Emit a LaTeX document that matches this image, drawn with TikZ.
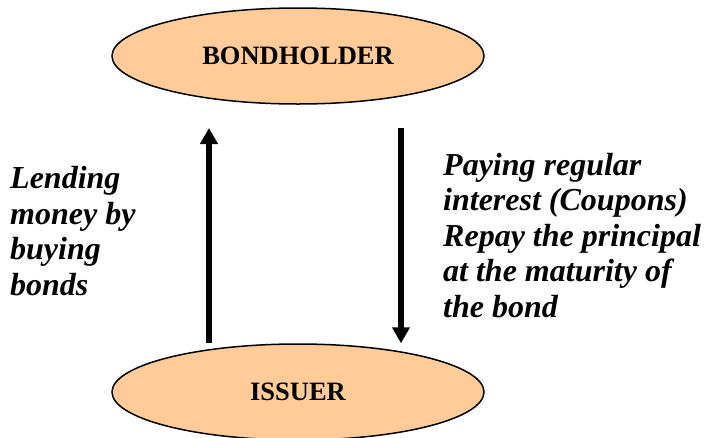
\documentclass[tikz,border=0pt]{standalone}
\usepackage{fontspec}
\setmainfont{Liberation Serif}
\usetikzlibrary{shapes.geometric,arrows.meta}
\definecolor{peach}{HTML}{FFCC99}
\begin{document}
\begin{tikzpicture}[x=1pt,y=-1pt]
  \tikzstyle{party} = [ellipse, draw=black, line width=1.5pt, fill=peach, minimum width=372pt, minimum height=96pt, font=\fontsize{26.5}{30}\selectfont\bfseries]
  \tikzstyle{flow} = [line width=6pt, -{Triangle[length=16pt,width=17pt]}]
  \tikzstyle{note} = [anchor=base west, inner sep=0pt, align=left, font=\fontsize{32}{35.5}\selectfont\bfseries\itshape]
  \useasboundingbox (0,0) rectangle (704,437);

  \node[party] (holder) at (298,56) {BONDHOLDER};
  \node[party] (issuer) at (298,392) {ISSUER};

  \coordinate (lendtop) at (209,128);
  \coordinate (paytop) at (401,128);

  \draw[flow] (issuer.north -| lendtop) -- (lendtop);
  \draw[flow] (paytop) -- (issuer.north -| paytop);

  % base anchor sits on the last line
  \node[note] (lend) at (10,295) {Lending\\money by\\buying\\bonds};
  \node[note] (pay) at (443,317) {Paying regular\\interest (Coupons)\\Repay the principal\\at the maturity of\\the bond};
\end{tikzpicture}
\end{document}
